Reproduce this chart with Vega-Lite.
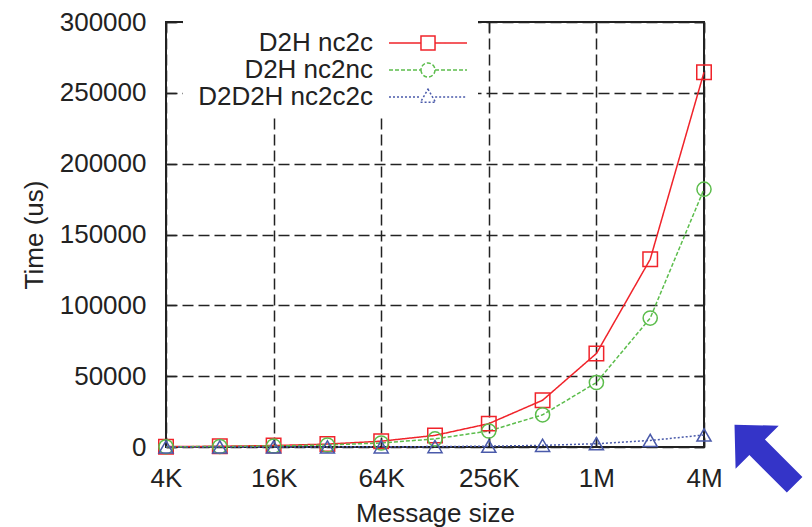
{
  "$schema": "https://vega.github.io/schema/vega-lite/v6.json",
  "width": 538,
  "height": 425,
  "autosize": "none",
  "padding": {"left": 166, "top": 22, "right": 108, "bottom": 80},
  "background": "white",
  "config": {
    "font": "Liberation Sans",
    "view": {"stroke": "#222", "strokeWidth": 2}
  },
  "resolve": {"axis": {"x": "independent", "y": "independent"}},
  "datasets": {
    "perf": [
      {"size": 4096, "series": "D2H nc2c", "time": 260},
      {"size": 8192, "series": "D2H nc2c", "time": 520},
      {"size": 16384, "series": "D2H nc2c", "time": 1030},
      {"size": 32768, "series": "D2H nc2c", "time": 2050},
      {"size": 65536, "series": "D2H nc2c", "time": 4100},
      {"size": 131072, "series": "D2H nc2c", "time": 8200},
      {"size": 262144, "series": "D2H nc2c", "time": 16500},
      {"size": 524288, "series": "D2H nc2c", "time": 33000},
      {"size": 1048576, "series": "D2H nc2c", "time": 66000},
      {"size": 2097152, "series": "D2H nc2c", "time": 132500},
      {"size": 4194304, "series": "D2H nc2c", "time": 264500},
      {"size": 4096, "series": "D2H nc2nc", "time": 180},
      {"size": 8192, "series": "D2H nc2nc", "time": 360},
      {"size": 16384, "series": "D2H nc2nc", "time": 710},
      {"size": 32768, "series": "D2H nc2nc", "time": 1420},
      {"size": 65536, "series": "D2H nc2nc", "time": 2850},
      {"size": 131072, "series": "D2H nc2nc", "time": 5700},
      {"size": 262144, "series": "D2H nc2nc", "time": 11300},
      {"size": 524288, "series": "D2H nc2nc", "time": 22700},
      {"size": 1048576, "series": "D2H nc2nc", "time": 45500},
      {"size": 2097152, "series": "D2H nc2nc", "time": 91000},
      {"size": 4194304, "series": "D2H nc2nc", "time": 182000},
      {"size": 4096, "series": "D2D2H nc2c2c", "time": 10},
      {"size": 8192, "series": "D2D2H nc2c2c", "time": 20},
      {"size": 16384, "series": "D2D2H nc2c2c", "time": 40},
      {"size": 32768, "series": "D2D2H nc2c2c", "time": 75},
      {"size": 65536, "series": "D2D2H nc2c2c", "time": 145},
      {"size": 131072, "series": "D2D2H nc2c2c", "time": 290},
      {"size": 262144, "series": "D2D2H nc2c2c", "time": 580},
      {"size": 524288, "series": "D2D2H nc2c2c", "time": 1150},
      {"size": 1048576, "series": "D2D2H nc2c2c", "time": 2300},
      {"size": 2097152, "series": "D2D2H nc2c2c", "time": 4600},
      {"size": 4194304, "series": "D2D2H nc2c2c", "time": 8500}
    ],
    "arrow": [
      {"size": 9800000, "time": -9200}
    ]
  },
  "layer": [
    {
      "data": {"name": "perf"},
      "mark": {"type": "line", "strokeWidth": 1.5},
      "encoding": {
        "x": {
          "field": "size", "type": "quantitative",
          "scale": {"type": "log", "base": 2, "domain": [4096, 4194304], "nice": false},
          "axis": {
            "values": [4096, 16384, 65536, 262144, 1048576, 4194304],
            "labelExpr": "datum.value >= 1048576 ? (datum.value/1048576) + 'M' : (datum.value/1024) + 'K'",
            "grid": true, "gridDash": [11, 5], "gridColor": "#222", "gridWidth": 1.5,
            "domain": false, "tickSize": -10, "tickColor": "#222", "tickWidth": 1.5,
            "labelPadding": 28, "labelFontSize": 26, "labelColor": "#222", "labelFlush": false,
            "title": "Message size", "titleFontSize": 26, "titleFontWeight": "normal",
            "titleColor": "#222", "titlePadding": 9
          }
        },
        "y": {
          "field": "time", "type": "quantitative",
          "scale": {"domain": [0, 300000], "nice": false, "zero": false},
          "axis": {
            "values": [0, 50000, 100000, 150000, 200000, 250000, 300000],
            "format": "d",
            "grid": true, "gridDash": [11, 5], "gridColor": "#222", "gridWidth": 1.5,
            "domain": false, "tickSize": -10, "tickColor": "#222", "tickWidth": 1.5,
            "labelPadding": 30, "labelFontSize": 26, "labelColor": "#222",
            "title": "Time (us)", "titleFontSize": 26, "titleFontWeight": "normal",
            "titleColor": "#222", "titlePadding": 12
          }
        },
        "color": {
          "field": "series", "type": "nominal",
          "scale": {"domain": ["D2H nc2c", "D2H nc2nc", "D2D2H nc2c2c"], "range": ["#f0232a", "#5cbd4c", "#4a5aaa"]},
          "legend": {
            "title": null, "orient": "none", "legendX": 17, "legendY": -1,
            "padding": 8, "rowPadding": -1, "fillColor": "white",
            "labelFontSize": 26, "labelColor": "#222", "labelLimit": 0,
            "labelAlign": "right", "labelOffset": -69, "symbolOffset": 223,
            "symbolSize": 676, "symbolStrokeWidth": 1.5,
            "encode": {
              "symbols": {
                "enter": {
                  "shape": {"signal": "datum.value === 'D2H nc2c' ? 'M-3,0H-0.54M0.54,0H3M-0.54,-0.54H0.54V0.54H-0.54Z' : datum.value === 'D2H nc2nc' ? 'M-3,0H-0.54M0.54,0H3M-0.54,0A0.54,0.54 0 1,0 0.54,0A0.54,0.54 0 1,0 -0.54,0Z' : 'M-3,0H-0.55M0.55,0H3M0,-0.6L0.58,0.4H-0.58Z'"}
                },
                "update": {
                  "shape": {"signal": "datum.value === 'D2H nc2c' ? 'M-3,0H-0.54M0.54,0H3M-0.54,-0.54H0.54V0.54H-0.54Z' : datum.value === 'D2H nc2nc' ? 'M-3,0H-0.54M0.54,0H3M-0.54,0A0.54,0.54 0 1,0 0.54,0A0.54,0.54 0 1,0 -0.54,0Z' : 'M-3,0H-0.55M0.55,0H3M0,-0.6L0.58,0.4H-0.58Z'"},
                  "strokeDash": {"signal": "datum.value === 'D2H nc2c' ? [1,0] : datum.value === 'D2H nc2nc' ? [4,2] : [2,2]"},
                  "fill": {"value": "transparent"}
                }
              }
            }
          }
        },
        "strokeDash": {
          "field": "series", "type": "nominal",
          "scale": {"domain": ["D2H nc2c", "D2H nc2nc", "D2D2H nc2c2c"], "range": [[1, 0], [4, 2], [2, 2]]},
          "legend": null
        }
      }
    },
    {
      "data": {"name": "perf"},
      "transform": [{"filter": "datum.series === 'D2H nc2c'"}],
      "mark": {"type": "point", "shape": "square", "filled": false, "size": 210, "strokeWidth": 1.5, "opacity": 1, "clip": false},
      "encoding": {
        "x": {"field": "size", "type": "quantitative", "axis": null},
        "y": {"field": "time", "type": "quantitative", "axis": null},
        "color": {"field": "series", "type": "nominal"}
      }
    },
    {
      "data": {"name": "perf"},
      "transform": [{"filter": "datum.series === 'D2H nc2nc'"}],
      "mark": {"type": "point", "shape": "circle", "filled": false, "size": 200, "strokeWidth": 1.5, "opacity": 1, "clip": false},
      "encoding": {
        "x": {"field": "size", "type": "quantitative", "axis": null},
        "y": {"field": "time", "type": "quantitative", "axis": null},
        "color": {"field": "series", "type": "nominal"}
      }
    },
    {
      "data": {"name": "perf"},
      "transform": [{"filter": "datum.series === 'D2D2H nc2c2c'"}],
      "mark": {"type": "point", "shape": "triangle-up", "filled": false, "size": 200, "strokeWidth": 1.5, "opacity": 1, "clip": false},
      "encoding": {
        "x": {"field": "size", "type": "quantitative", "axis": null},
        "y": {"field": "time", "type": "quantitative", "axis": null},
        "color": {"field": "series", "type": "nominal"}
      }
    },
    {
      "data": {"name": "arrow"},
      "mark": {
        "type": "point", "filled": true, "clip": false, "opacity": 1,
        "color": "#3434c8", "size": 5000,
        "shape": "M-1,-1L0.25,-0.97L-0.14,-0.58L0.92,0.48L0.48,0.92L-0.58,-0.14L-0.97,0.25Z"
      },
      "encoding": {
        "x": {
          "field": "size", "type": "quantitative",
          "axis": {
            "orient": "top", "values": [4096, 16384, 65536, 262144, 1048576, 4194304],
            "labels": false, "grid": false, "domain": false, "title": null,
            "tickSize": -10, "tickColor": "#222", "tickWidth": 1.5
          }
        },
        "y": {
          "field": "time", "type": "quantitative",
          "axis": {
            "orient": "right", "values": [0, 50000, 100000, 150000, 200000, 250000, 300000],
            "labels": false, "grid": false, "domain": false, "title": null,
            "tickSize": -10, "tickColor": "#222", "tickWidth": 1.5
          }
        }
      }
    }
  ]
}
